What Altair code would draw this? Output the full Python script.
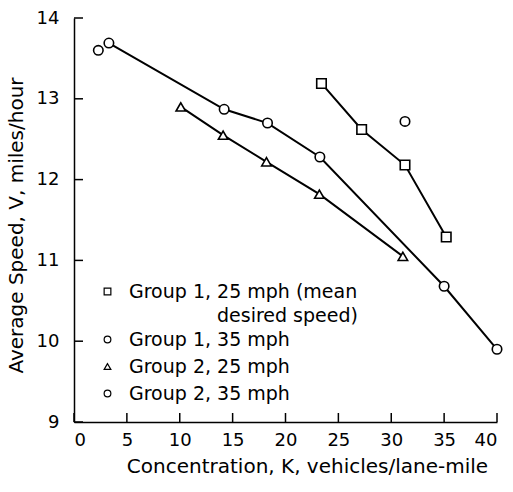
import altair as alt
import pandas as pd

# Series values
g1_25_x = [23.4, 27.2, 31.3, 35.2]
g1_25_y = [13.19, 12.62, 12.18, 11.29]

g1_35_x = [2.3, 31.3]
g1_35_y = [13.60, 12.72]

g2_25_x = [10.1, 14.1, 18.2, 23.2, 31.1]
g2_25_y = [12.90, 12.55, 12.22, 11.82, 11.05]

g2_35_x = [3.3, 14.2, 18.3, 23.25, 35.0, 40.0]
g2_35_y = [13.69, 12.87, 12.70, 12.28, 10.68, 9.90]

series_names = [
    "Group 1, 25 mph (mean desired speed)",
    "Group 1, 35 mph",
    "Group 2, 25 mph",
    "Group 2, 35 mph",
]
series_shapes = ["square", "circle", "triangle-up", "circle"]
connected = [True, False, True, True]

x_ticks = [0, 5, 10, 15, 20, 25, 30, 35, 40]
y_ticks = [9, 10, 11, 12, 13, 14]

rows = []
for name, xs, ys, conn in zip(
    series_names,
    [g1_25_x, g1_35_x, g2_25_x, g2_35_x],
    [g1_25_y, g1_35_y, g2_25_y, g2_35_y],
    connected,
):
    for i, (xv, yv) in enumerate(zip(xs, ys)):
        rows.append({"series": name, "K": xv, "V": yv, "order": i, "connected": conn})
df = pd.DataFrame(rows)
xt_df = pd.DataFrame({"K": x_ticks})
yt_df = pd.DataFrame({"V": y_ticks})

FONT = "DejaVu Sans"
W, H = 423, 404

xscale = alt.Scale(domain=[0, 40], nice=False, zero=False)
yscale = alt.Scale(domain=[9, 14], nice=False, zero=False)

x_axis = alt.Axis(
    values=x_ticks,
    title="Concentration, K, vehicles/lane-mile",
    ticks=False,
    domain=True,
    domainColor="black",
    domainWidth=1.5,
    labelPadding=9,
    labelFontSize=18,
    labelFont=FONT,
    labelColor="black",
    titleFont=FONT,
    titleFontSize=20,
    titleFontWeight="normal",
    titleColor="black",
    titleX=233,
    titleY=44,
    titleAlign="center",
    titleBaseline="middle",
    grid=False,
)
y_axis = alt.Axis(
    values=y_ticks,
    title="Average Speed, V, miles/hour",
    ticks=False,
    domain=True,
    domainColor="black",
    domainWidth=1.5,
    labelPadding=15,
    labelFontSize=18,
    labelFont=FONT,
    labelColor="black",
    titleFont=FONT,
    titleFontSize=20,
    titleFontWeight="normal",
    titleColor="black",
    titleX=-58,
    titleY=207,
    titleAngle=270,
    titleAlign="center",
    titleBaseline="middle",
    grid=False,
)

x_enc = alt.X("K:Q", scale=xscale, axis=x_axis)
y_enc = alt.Y("V:Q", scale=yscale, axis=y_axis)

lines = (
    alt.Chart(df)
    .transform_filter("datum.connected")
    .mark_line(color="black", strokeWidth=2)
    .encode(x=x_enc, y=y_enc, detail="series:N", order="order:Q")
)

xticks_layer = (
    alt.Chart(xt_df)
    .mark_rule(color="black", strokeWidth=1.5)
    .encode(x=x_enc, y=alt.value(H), y2=alt.value(H - 9))
)
yticks_layer = (
    alt.Chart(yt_df)
    .mark_rule(color="black", strokeWidth=1.5)
    .encode(y=y_enc, x=alt.value(0), x2=alt.value(9))
)

label_expr = (
    "datum.label == 'Group 1, 25 mph (mean desired speed)' ? ['Group 1, 25 mph (mean', ' '] : datum.label"
)

points = (
    alt.Chart(df)
    .mark_point(filled=False, color="black", fill="white", fillOpacity=1, strokeWidth=1.6, size=90, opacity=1)
    .encode(
        x=x_enc,
        y=y_enc,
        shape=alt.Shape(
            "series:N",
            scale=alt.Scale(domain=series_names, range=series_shapes),
            legend=alt.Legend(
                title=None,
                orient="none",
                legendX=24,
                legendY=264,
                symbolSize=45,
                symbolStrokeWidth=1.2,
                labelFont=FONT,
                labelFontSize=19,
                labelColor="black",
                labelOffset=12,
                rowPadding=7,
                labelLimit=400,
                labelExpr=label_expr,
            ),
        ),
    )
)

# second line of the first legend entry
legend_line2 = (
    alt.Chart(pd.DataFrame({"t": ["desired speed)"]}))
    .mark_text(font=FONT, fontSize=19, color="black", align="left", baseline="middle")
    .encode(text="t:N", x=alt.value(143), y=alt.value(298))
)

chart = (
    alt.layer(lines, xticks_layer, yticks_layer, points, legend_line2)
    .properties(
        width=W,
        height=H,
        autosize=alt.AutoSizeParams(type="none"),
        padding={"left": 74, "top": 18, "right": 16, "bottom": 70},
        background="white",
    )
    .configure_view(stroke=None)
)

chart.save("out.html", embed_options={"renderer": "svg", "actions": False})
